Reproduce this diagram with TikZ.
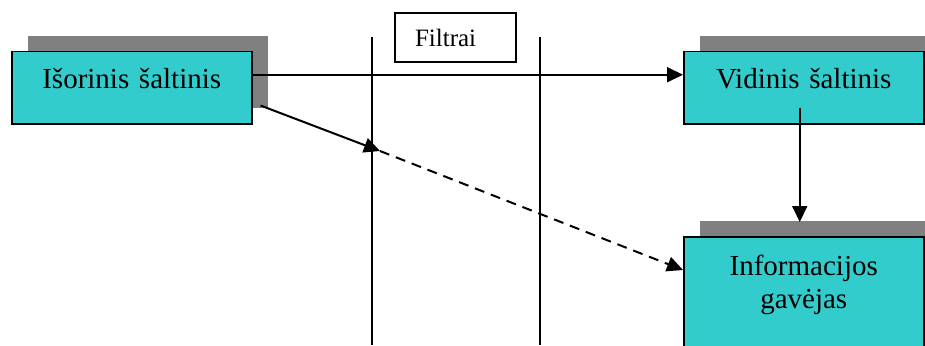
\documentclass[tikz,border=0pt]{standalone}
\usepackage{fontspec}
\setmainfont{Liberation Serif}
\usetikzlibrary{positioning,calc}
\usetikzlibrary{arrows.meta,shadows}
\definecolor{BoxCyan}{RGB}{51,204,204}
\definecolor{ShadeGray}{RGB}{128,128,128}
\tikzset{
  box/.style={draw=black,fill=BoxCyan,line width=1.5pt,inner sep=0pt,
    text width=240pt,align=center,anchor=north west,font=\fontsize{29}{33}\selectfont,
    drop shadow={shadow xshift=16pt,shadow yshift=16pt,fill=ShadeGray,opacity=1}},
  link/.style={draw=black,line width=2pt,-{Triangle[length=16pt,width=15pt]}},
  wall/.style={draw=black,line width=1.5pt},
}
\tikzset{filt/.style={draw=black,line width=1.2pt,minimum width=121pt,minimum height=49pt,inner sep=0pt,
  text width=107pt,align=left,inner xsep=7pt,font=\fontsize{25}{30}\selectfont}}

\begin{document}
\begin{tikzpicture}[x=1pt,y=-1pt]
\useasboundingbox (0,0) rectangle (925,345);
\clip (0,0) rectangle (925,345);
% filter walls
\coordinate (w1t) at (372,37);
\coordinate (w1b) at (372,345);
\coordinate (w2t) at (540,37);
\coordinate (w2b) at (540,345);
\draw[wall] (w1t) -- (w1b);
\draw[wall] (w2t) -- (w2b);
\node[filt] (filtr) at (455.5,37.5) {\hspace*{13pt}Filtrai};
% sources and receiver
\node[box,text height=37pt,text depth=35pt] (isor) at (11,51) {Išorinis šaltinis};
\node[box,text height=37pt,text depth=35pt] (vid) at (683,51) {Vidinis šaltinis};
\node[box,text height=39pt,text depth=91pt] (gav) at (683,236) {Informacijos\\gavėjas};
\coordinate (tap) at ([xshift=8pt,yshift=19pt]isor.south east);
\coordinate (fmid) at (380,151);
\draw[link] ([yshift=13pt]isor.east) -- ([yshift=13pt]vid.west);
\draw[link] (tap) -- (fmid);
\draw[link,dash pattern=on 10pt off 7pt] (fmid) -- ([yshift=-34pt]gav.north west);
\draw[link] ([xshift=-4pt,yshift=17pt]vid.south) -- ([xshift=-4pt,yshift=14pt]gav.north);
\end{tikzpicture}
\end{document}
